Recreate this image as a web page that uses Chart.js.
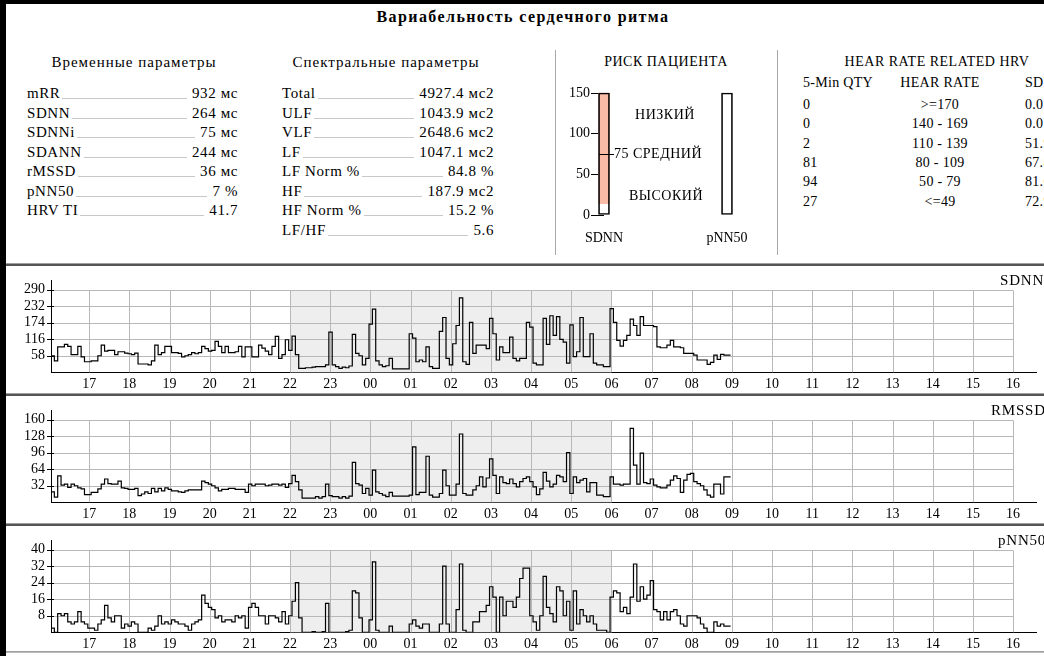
<!DOCTYPE html>
<html lang="ru">
<head>
<meta charset="utf-8">
<title>Вариабельность сердечного ритма</title>
<script src="https://cdn.jsdelivr.net/npm/chart.js@4.4.1/dist/chart.umd.min.js"></script>
<style>
  body { margin:0; width:1044px; height:656px; background:#000; overflow:hidden; position:relative;
         font-family:"Liberation Serif","Times New Roman",serif; font-size:15px; color:#000; }
  #sheet { position:absolute; left:6px; top:4px; right:0; bottom:0; background:#fff; }
  .t { position:absolute; white-space:nowrap; line-height:16px; }
  .c { transform:translateX(-50%); }
  .h { font-size:15px; letter-spacing:1px; }
  .s { font-size:14px; letter-spacing:0.5px; }
  .row { position:absolute; display:flex; height:16px; line-height:16px; white-space:nowrap; letter-spacing:0.6px; }
  .row .fill { flex:1; border-bottom:1px solid #c8c8c8; margin:0 5px 2px 2px; }
  .vsep { position:absolute; width:1px; background:#a8a8a8; top:50px; height:205px; }
  .hsep { position:absolute; left:6px; right:0; height:2px; background:#555; border-top:1px solid #a0a0a0; }
  canvas { position:absolute; }
  .tag { position:absolute; background:#fff; padding-left:2px; line-height:16px; white-space:nowrap; letter-spacing:0.8px; }
</style>
</head>
<body>
<div id="sheet"></div>
<div class="t c" style="left:523px;top:9px;font-weight:bold;font-size:16px;letter-spacing:1.4px">Вариабельность сердечного ритма</div>

<div class="t c h" style="left:134px;top:54px">Временные параметры</div>
<div class="t c h" style="left:386px;top:54px">Спектральные параметры</div>
<div class="t c s" style="left:666px;top:54px">РИСК ПАЦИЕНТА</div>
<div class="t c s" style="left:937px;top:54px">HEAR RATE RELATED HRV</div>
<div class="vsep" style="left:555px"></div>
<div class="vsep" style="left:777px"></div>
<div id="tables"></div>

<canvas id="risk" width="220" height="175" style="left:556px;top:80px"></canvas>
<div class="t c s" style="left:665px;top:107px">НИЗКИЙ</div>
<div class="t s" style="left:614px;top:146px">75 СРЕДНИЙ</div>
<div class="t c s" style="left:666px;top:188px">ВЫСОКИЙ</div>

<div class="hsep" style="top:263px"></div>
<div class="hsep" style="top:393px"></div>
<div class="hsep" style="top:523px"></div>
<div class="hsep" style="top:651px;background:#bbb;height:1px"></div>
<canvas id="sdnnChart" width="1044" height="127" style="left:0;top:266px"></canvas>
<canvas id="rmssdChart" width="1044" height="127" style="left:0;top:396px"></canvas>
<canvas id="pnnChart" width="1044" height="127" style="left:0;top:526px"></canvas>
<div class="tag" style="left:998px;top:272px">SDNN</div>
<div class="tag" style="left:989px;top:402px">RMSSD</div>
<div class="tag" style="left:996px;top:532px">pNN50</div>

<script>
// временные параметры
const timeParams = ['mRR', 'SDNN', 'SDNNi', 'SDANN', 'rMSSD', 'pNN50', 'HRV TI'];
const timeValues = ['932 мс', '264 мс', '75 мс', '244 мс', '36 мс', '7 %', '41.7'];
// спектральные параметры
const specParams = ['Total', 'ULF', 'VLF', 'LF', 'LF Norm %', 'HF', 'HF Norm %', 'LF/HF'];
const specValues = ['4927.4 мс2', '1043.9 мс2', '2648.6 мс2', '1047.1 мс2', '84.8 %', '187.9 мс2', '15.2 %', '5.6'];

// риск пациента
const riskCategories = ['SDNN', 'pNN50'];
const riskFrame = [[0, 150], [0, 150]];
const riskLevel = [[14, 150], null];
const riskTicks = [0, 50, 100, 150];
const riskMid = 75;

// heart rate related HRV
const hrvHeader = ['5-Min QTY', 'HEAR RATE', 'SDNN'];
const hrvQty = ['0', '0', '2', '81', '94', '27'];
const hrvRate = ['>=170', '140 - 169', '110 - 139', '80 - 109', '50 - 79', '<=49'];
const hrvSdnn = ['0.0', '0.0', '51.9', '67.8', '81.6', '72.9'];

// тренды, шаг 5 минут, начало 16:03
const startHour = 16.05;
const stepHours = 1 / 12;
const hourTicks = [17, 18, 19, 20, 21, 22, 23, 24, 25, 26, 27, 28, 29, 30, 31, 32, 33, 34, 35, 36, 37, 38, 39, 40];
const nightStart = 22, nightEnd = 30;

const sdnn = [
  58, 40, 89, 89, 98, 91, 62, 62, 91, 54, 37,
  37, 40, 40, 58, 95, 74, 77, 77, 62, 72, 72, 67,
  65, 62, 67, 29, 29, 29, 26, 40, 95, 62, 69, 91,
  91, 69, 69, 66, 54, 58, 62, 69, 65, 69, 91, 83,
  74, 77, 108, 91, 69, 91, 69, 69, 72, 91, 54, 89,
  89, 54, 54, 95, 85, 74, 62, 91, 126, 49, 62, 114,
  77, 127, 62, 14, 14, 16, 16, 18, 20, 20, 20, 26,
  141, 26, 20, 14, 18, 16, 22, 133, 66, 58, 26, 49,
  169, 221, 40, 26, 20, 23, 49, 12, 12, 12, 12, 12,
  135, 120, 37, 43, 37, 89, 20, 14, 14, 143, 192, 49,
  26, 100, 164, 261, 37, 28, 175, 66, 95, 95, 95, 83,
  189, 135, 43, 89, 69, 69, 123, 49, 40, 49, 49, 175,
  158, 32, 26, 26, 189, 98, 198, 129, 195, 115, 106, 32,
  166, 55, 72, 192, 55, 55, 135, 32, 26, 26, 20, 20,
  223, 175, 112, 92, 112, 129, 186, 164, 129, 195, 164, 164,
  164, 160, 89, 86, 86, 95, 112, 89, 89, 86, 66, 66,
  66, 60, 43, 43, 43, 28, 35, 60, 45, 63, 60, 60
];
const rmssd = [
  20, 10, 51, 33, 35, 29, 35, 32, 28, 26, 15,
  15, 19, 19, 26, 35, 45, 36, 35, 35, 41, 28, 27,
  25, 25, 27, 13, 16, 20, 17, 27, 20, 27, 22, 28,
  25, 22, 22, 20, 19, 22, 24, 24, 24, 24, 41, 38,
  35, 32, 28, 22, 25, 25, 27, 27, 25, 25, 25, 19,
  35, 32, 35, 35, 35, 32, 33, 35, 35, 33, 35, 29,
  36, 52, 40, 24, 8, 8, 8, 8, 11, 8, 11, 35,
  13, 11, 11, 8, 11, 8, 12, 77, 36, 33, 17, 27,
  14, 62, 20, 17, 14, 11, 19, 12, 12, 12, 12, 12,
  14, 107, 15, 19, 19, 89, 14, 10, 10, 17, 62, 32,
  14, 14, 35, 132, 17, 14, 14, 24, 32, 49, 30, 47,
  84, 52, 17, 49, 38, 36, 45, 36, 30, 40, 46, 49,
  40, 30, 15, 26, 58, 41, 30, 35, 52, 49, 40, 96,
  17, 49, 38, 43, 46, 20, 38, 38, 14, 14, 11, 11,
  49, 35, 35, 33, 35, 35, 143, 72, 35, 95, 38, 36,
  45, 33, 30, 28, 28, 33, 43, 51, 46, 19, 43, 54,
  56, 40, 36, 32, 24, 14, 10, 35, 35, 16, 49, 49
];
const pnn50 = [
  2, 0, 9, 8, 9, 5, 4, 5, 10, 5, 4,
  2, 2, 1, 4, 6, 13, 7, 5, 8, 8, 2, 4,
  3, 5, 4, 0, 0, 0, 2, 1, 3, 8, 4, 5,
  4, 6, 5, 4, 4, 3, 1, 4, 5, 6, 18, 14,
  12, 11, 7, 8, 5, 6, 6, 5, 8, 7, 8, 2,
  12, 14, 12, 8, 8, 4, 8, 8, 7, 5, 10, 4,
  8, 15, 24, 7, 0, 0, 0, 0.3, 0, 0, 0.3, 14,
  0, 0, 0, 0, 0, 0.3, 1, 20, 19, 7, 0, 0,
  6, 34, 1, 0, 0, 0, 3, 0, 0, 0, 0, 0,
  4, 6, 3, 2, 4, 4, 0, 0, 0, 4, 32, 4,
  0, 0, 11, 33, 1, 0, 0, 5, 5, 10, 10, 13,
  22, 17, 0, 17, 8, 15, 15, 12, 17, 26, 31, 31,
  8, 5, 1, 8, 27, 12, 9, 5, 22, 20, 8, 15,
  1, 20, 4, 11, 8, 5, 8, 4, 1, 1, 1, 0,
  17, 20, 19, 10, 12, 9, 17, 33, 15, 22, 16, 18,
  25, 11, 10, 6, 10, 6, 10, 11, 8, 4, 3, 8,
  8, 8, 7, 4, 2, 0, 0, 5, 3, 4, 3, 3
];
const sdnnTicks = [58, 116, 174, 232, 290];
const rmssdTicks = [32, 64, 96, 128, 160];
const pnn50Ticks = [8, 16, 24, 32, 40];

// ---- текстовые таблицы ----
const tables = document.getElementById('tables');
function addRow(left, width, top, label, value) {
  const r = document.createElement('div');
  r.className = 'row';
  r.style.left = left + 'px';
  r.style.width = width + 'px';
  r.style.top = top + 'px';
  r.innerHTML = '<span></span><span class="fill"></span><span></span>';
  r.children[0].textContent = label;
  r.children[2].textContent = value;
  tables.appendChild(r);
}
timeParams.forEach((p, i) => addRow(27, 211, 85 + i * 19.5, p, timeValues[i]));
specParams.forEach((p, i) => addRow(282, 212, 85 + i * 19.5, p, specValues[i]));

function addText(x, y, txt, center) {
  const d = document.createElement('div');
  d.className = center ? 't c' : 't';
  d.style.left = x + 'px';
  d.style.top = (y - 8) + 'px';
  d.style.fontSize = '14px';
  d.style.letterSpacing = '0.3px';
  d.textContent = txt;
  tables.appendChild(d);
}
addText(803, 83, hrvHeader[0]);
addText(940, 83, hrvHeader[1], true);
addText(1025, 83, hrvHeader[2]);
hrvQty.forEach((q, i) => {
  const y = 105 + i * 19.3;
  addText(803, y, q);
  addText(940, y, hrvRate[i], true);
  addText(1025, y, hrvSdnn[i]);
});

const serif = { family: '"Liberation Serif", "Times New Roman", serif', size: 14 };

// ---- риск пациента ----
const riskLine = {
  id: 'riskLine',
  afterDatasetsDraw(chart) {
    const { ctx, scales: { x, y } } = chart;
    const py = Math.round(y.getPixelForValue(riskMid)) + 0.5;
    const px = x.getPixelForValue(0);
    ctx.save();
    ctx.strokeStyle = '#000';
    ctx.lineWidth = 1;
    ctx.beginPath();
    ctx.moveTo(px - 5, py);
    ctx.lineTo(px + 10, py);
    ctx.stroke();
    ctx.restore();
  }
};
new Chart(document.getElementById('risk'), {
  type: 'bar',
  data: {
    labels: riskCategories,
    datasets: [
      { data: riskFrame, backgroundColor: 'rgba(0,0,0,0)', borderColor: '#000', borderWidth: 1,
        borderSkipped: false, barThickness: 11, grouped: false, order: 0, clip: false },
      { data: riskLevel, backgroundColor: '#f9bba6', borderWidth: 0,
        barThickness: 11, grouped: false, order: 1, clip: false }
    ]
  },
  options: {
    responsive: false, animation: false,
    plugins: { legend: { display: false }, tooltip: { enabled: false } },
    layout: { padding: { top: 13, right: 49, left: 0, bottom: 0 } },
    scales: {
      x: { offset: false, grid: { display: false, drawTicks: false }, border: { display: false },
           ticks: { font: serif, color: '#000', padding: 15 }, afterFit: s => { s.height = 40; } },
      y: { min: 0, max: 150,
           afterBuildTicks: s => { s.ticks = riskTicks.map(v => ({ value: v })); },
           grid: { drawOnChartArea: false, drawTicks: true, tickLength: 13, color: '#000' },
           border: { display: false },
           ticks: { font: serif, color: '#000', padding: 1 }, afterFit: s => { s.width = 48; } }
    }
  },
  plugins: [riskLine]
});

// ---- тренды ----
const trendGrid = {
  id: 'trendGrid',
  beforeDatasetsDraw(chart, args, opts) {
    const { ctx, chartArea, scales: { x, y } } = chart;
    const yTop = Math.round(y.getPixelForValue(opts.top)) + 0.5;
    const y0 = y.getPixelForValue(0);
    const xEnd = x.getPixelForValue(hourTicks[hourTicks.length - 1]);
    ctx.save();
    ctx.fillStyle = '#eeeeee';
    const n0 = x.getPixelForValue(nightStart), n1 = x.getPixelForValue(nightEnd);
    ctx.fillRect(n0, yTop, n1 - n0, y0 - yTop);
    ctx.strokeStyle = '#b8b8b8';
    ctx.lineWidth = 1;
    ctx.beginPath();
    hourTicks.forEach(h => {
      const px = Math.round(x.getPixelForValue(h)) + 0.5;
      ctx.moveTo(px, yTop);
      ctx.lineTo(px, y0);
    });
    opts.ticks.forEach(v => {
      const py = Math.round(y.getPixelForValue(v)) + 0.5;
      ctx.moveTo(chartArea.left, py);
      ctx.lineTo(xEnd, py);
    });
    ctx.stroke();
    ctx.strokeStyle = '#000';
    ctx.beginPath();
    opts.ticks.forEach(v => {
      const py = Math.round(y.getPixelForValue(v)) + 0.5;
      ctx.moveTo(chartArea.left - 4, py);
      ctx.lineTo(chartArea.left + 3, py);
    });
    ctx.stroke();
    ctx.restore();
  }
};

function trendChart(id, values, ticks) {
  const points = values.map((v, i) => ({ x: startHour + i * stepHours, y: v }));
  points.push({ x: startHour + values.length * stepHours, y: values[values.length - 1] });
  const top = ticks[ticks.length - 1];
  return new Chart(document.getElementById(id), {
    type: 'line',
    data: { datasets: [{ data: points, borderColor: '#000', borderWidth: 1.2, stepped: true,
                         pointRadius: 0, fill: false }] },
    options: {
      responsive: false, animation: false,
      plugins: { legend: { display: false }, tooltip: { enabled: false }, trendGrid: { top: top, ticks: ticks } },
      layout: { padding: { top: 13, right: 8, left: 0, bottom: 0 } },
      scales: {
        x: { type: 'linear', min: startHour, max: 40.57,
             afterBuildTicks: s => { s.ticks = hourTicks.map(v => ({ value: v })); },
             ticks: { font: serif, color: '#000', padding: 4, maxRotation: 0, autoSkip: false,
                      callback: v => String(v % 24).padStart(2, '0') },
             grid: { display: false, drawTicks: false }, border: { display: true, color: '#000', width: 1 },
             afterFit: s => { s.height = 20.7; } },
        y: { min: 0, max: top * 1.11,
             afterBuildTicks: s => { s.ticks = ticks.map(v => ({ value: v })); },
             ticks: { font: serif, color: '#000', padding: 6 },
             grid: { display: false, drawTicks: false }, border: { display: true, color: '#000', width: 1 },
             afterFit: s => { s.width = 51; } }
      }
    },
    plugins: [trendGrid]
  });
}

trendChart('sdnnChart', sdnn, sdnnTicks);
trendChart('rmssdChart', rmssd, rmssdTicks);
trendChart('pnnChart', pnn50, pnn50Ticks);
</script>
</body>
</html>
